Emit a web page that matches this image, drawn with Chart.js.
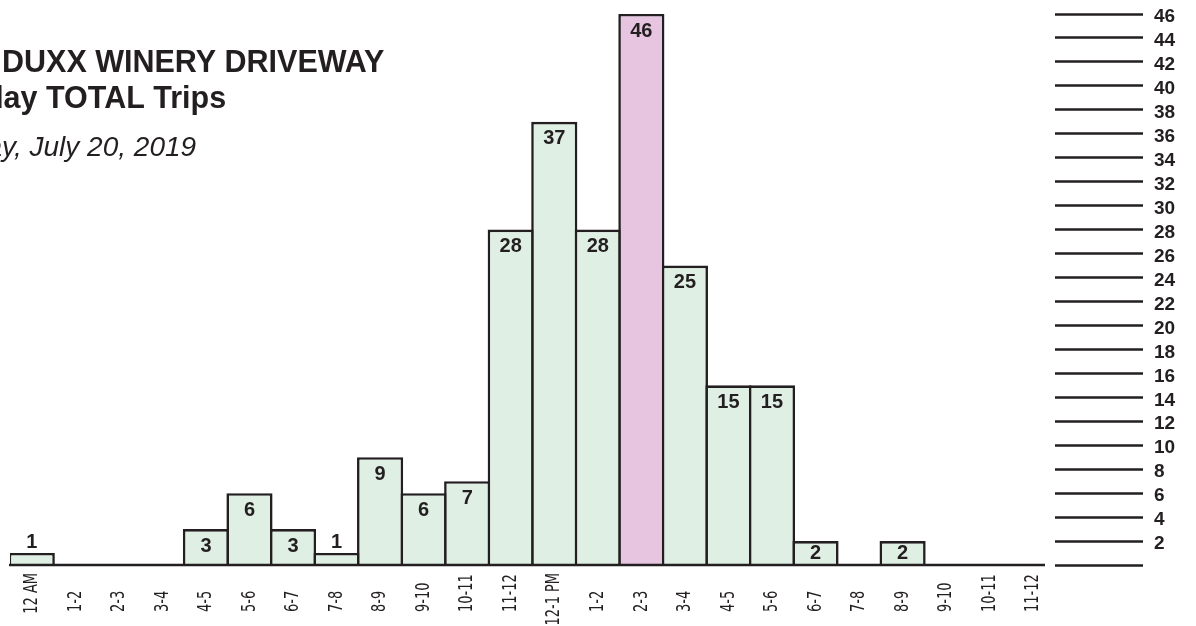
<!DOCTYPE html>
<html>
<head>
<meta charset="utf-8">
<title>Driveway Trips</title>
<script src="https://cdn.jsdelivr.net/npm/chart.js@4.4.1/dist/chart.umd.min.js"></script>
<style>
  html, body { margin: 0; padding: 0; background: #fff; }
  #wrap { width: 1196px; height: 626px; }
</style>
</head>
<body>
<div id="wrap"><canvas id="tripsChart" width="1196" height="626"></canvas></div>
<script>
// hourly driveway trips, Saturday July 20 2019
const hourLabels = ['12 AM', '1-2', '2-3', '3-4', '4-5', '5-6', '6-7', '7-8', '8-9', '9-10', '10-11', '11-12',
                    '12-1 PM', '1-2', '2-3', '3-4', '4-5', '5-6', '6-7', '7-8', '8-9', '9-10', '10-11', '11-12'];
const tripCounts = [1, 0, 0, 0, 3, 6, 3, 1, 9, 6, 7, 28, 37, 28, 46, 25, 15, 15, 2, 0, 2, 0, 0, 0];
const yMax = 46;
const yStep = 2;

const titleLines = ['DUXX WINERY DRIVEWAY', 'Saturday TOTAL Trips'];
const subtitle = 'Saturday, July 20, 2019';

const ink = '#231f20';
const barFill = '#dfefe4';
const peakFill = '#e7c4df';
const peakIndex = tripCounts.indexOf(Math.max(...tripCounts));

const titleBlock = {
    id: 'titleBlock',
    beforeDraw(chart) {
        const ctx = chart.ctx;
        ctx.save();
        ctx.fillStyle = '#fff';
        ctx.fillRect(0, 0, chart.width, chart.height);
        ctx.restore();
    },
    afterDraw(chart) {
        const ctx = chart.ctx;
        ctx.save();
        ctx.fillStyle = ink;
        ctx.textAlign = 'left';
        ctx.textBaseline = 'alphabetic';
        ctx.font = 'bold 30.5px "Liberation Sans", Arial, sans-serif';
        ctx.fillText(titleLines[0], 2, 72);
        ctx.fillText(titleLines[1], -93, 108);
        ctx.font = 'italic 28px "Liberation Sans", Arial, sans-serif';
        ctx.fillText(subtitle, -96, 156);
        ctx.restore();
    }
};

const barText = {
    id: 'barText',
    afterDatasetsDraw(chart) {
        const ctx = chart.ctx;
        const area = chart.chartArea;
        const meta = chart.getDatasetMeta(0);
        const xScale = chart.scales.x;
        ctx.save();

        // baseline stops short of the right-hand tick marks
        ctx.strokeStyle = ink;
        ctx.lineWidth = 2.5;
        ctx.beginPath();
        ctx.moveTo(area.left - 1, area.bottom);
        ctx.lineTo(area.right - 10, area.bottom);
        ctx.stroke();

        // counts inside the top of each bar (above the very short ones)
        ctx.fillStyle = ink;
        ctx.font = 'bold 20px "Liberation Sans", Arial, sans-serif';
        ctx.textAlign = 'center';
        ctx.textBaseline = 'middle';
        meta.data.forEach((bar, i) => {
            const v = tripCounts[i];
            if (!v) return;
            const h = bar.base - bar.y;
            const y = v < 2 ? bar.y - 11 : bar.y + Math.min(17, h / 2 + 1);
            ctx.fillText(String(v), bar.x, y);
        });

        // hour labels, narrow and rotated to read upward; short ones sit on
        // a common bottom line, long ones hang from just under the axis
        const squeeze = 0.72;
        ctx.font = '20px "DejaVu Sans Condensed", "DejaVu Sans", sans-serif';
        ctx.textAlign = 'left';
        hourLabels.forEach((lab, i) => {
            const len = ctx.measureText(lab).width * squeeze;
            const bottom = Math.max(area.bottom + 47, area.bottom + 8 + len);
            ctx.save();
            ctx.translate(xScale.getPixelForTick(i), bottom);
            ctx.rotate(-Math.PI / 2);
            ctx.scale(squeeze, 1);
            ctx.fillText(lab, 0, 0);
            ctx.restore();
        });
        ctx.restore();
    }
};

new Chart(document.getElementById('tripsChart'), {
    type: 'bar',
    data: {
        labels: hourLabels,
        datasets: [{
            data: tripCounts,
            backgroundColor: tripCounts.map((v, i) => i === peakIndex ? peakFill : barFill),
            borderColor: ink,
            borderWidth: 2.6,
            borderSkipped: 'bottom',
            barPercentage: 1.06,
            categoryPercentage: 1
        }]
    },
    options: {
        responsive: false,
        animation: false,
        layout: { padding: { left: 10, top: 14, right: 0, bottom: 0 } },
        plugins: {
            legend: { display: false },
            tooltip: { enabled: false }
        },
        scales: {
            x: {
                grid: { display: false },
                border: { display: false },
                ticks: { display: false },
                afterFit(scale) {
                    scale.height = 61;
                    scale.paddingLeft = 0;
                    scale.paddingRight = 0;
                }
            },
            y: {
                position: 'right',
                min: 0,
                max: yMax,
                grid: {
                    drawOnChartArea: false,
                    drawTicks: true,
                    tickLength: 88,
                    tickWidth: 2.3,
                    tickColor: ink
                },
                border: { display: false },
                ticks: {
                    stepSize: yStep,
                    autoSkip: false,
                    padding: 11,
                    labelOffset: 3,
                    color: ink,
                    font: { family: '"Liberation Sans", Arial, sans-serif', weight: 'bold', size: 19 },
                    callback: v => v === 0 ? '' : v
                },
                afterFit(scale) {
                    scale.width = 141;
                    scale.paddingTop = 0;
                    scale.paddingBottom = 0;
                }
            }
        }
    },
    plugins: [titleBlock, barText]
});
</script>
</body>
</html>
